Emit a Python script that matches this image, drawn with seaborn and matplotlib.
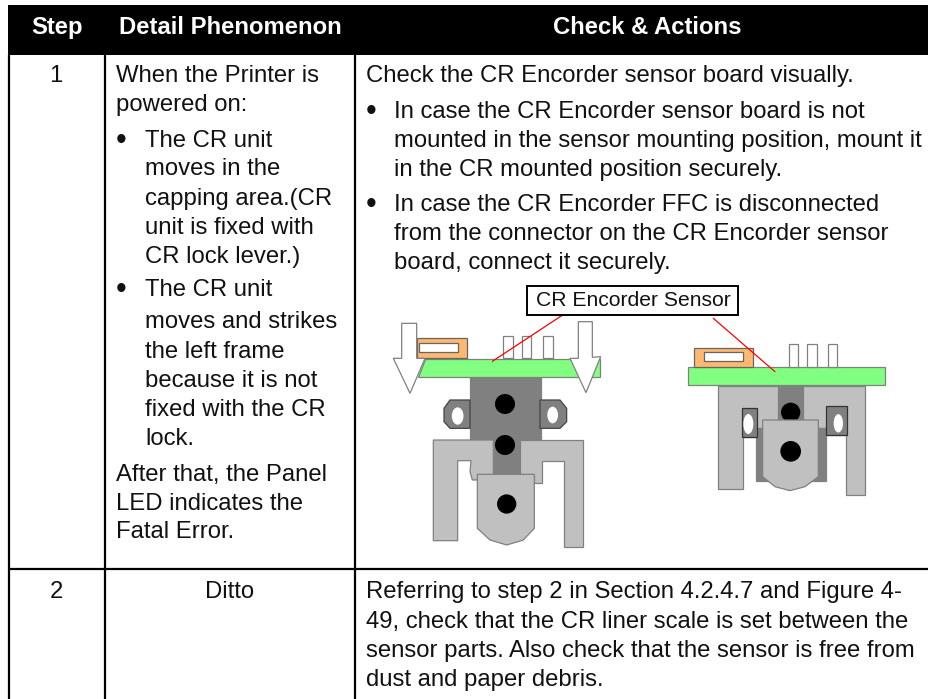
import matplotlib
matplotlib.use("Agg")
import matplotlib.pyplot as plt
from matplotlib.patches import Polygon, Ellipse, Rectangle
import seaborn as sns

sns.set_theme(style="white")
plt.rcParams['font.family'] = ['Liberation Sans', 'DejaVu Sans']

# ---- table content ----
headers = ["Step", "Detail Phenomenon", "Check & Actions"]
steps = ["1", "2"]
ditto = "Ditto"
phenomenon_lines = ["When the Printer is", "powered on:", "The CR unit", "moves in the",
                    "capping area.(CR", "unit is fixed with", "CR lock lever.)", "The CR unit",
                    "moves and strikes", "the left frame", "because it is not",
                    "fixed with the CR", "lock.", "After that, the Panel",
                    "LED indicates the", "Fatal Error."]
action_lines = ["Check the CR Encorder sensor board visually.",
                "In case the CR Encorder sensor board is not",
                "mounted in the sensor mounting position, mount it",
                "in the CR mounted position securely.",
                "In case the CR Encorder FFC is disconnected",
                "from the connector on the CR Encorder sensor",
                "board, connect it securely."]
step2_lines = ["Referring to step 2 in Section 4.2.4.7 and Figure 4-",
               "49, check that the CR liner scale is set between the",
               "sensor parts. Also check that the sensor is free from",
               "dust and paper debris."]
callout = "CR Encorder Sensor"

# ---- layout (pixels) ----
W, H = 929, 699
phen_y = [82, 111, 147, 175, 205, 234, 263, 296, 328, 358, 387, 416, 445, 481, 510, 538]
phen_x = [116, 116, 145, 145, 145, 145, 145, 145, 145, 145, 145, 145, 145, 116, 116, 116]
phen_bullets = [147, 296]
act_y = [82, 118, 147, 176, 211, 240, 269]
act_x = [366, 394, 394, 394, 394, 394, 394]
act_bullets = [118, 211]
step2_y = [598, 628, 657, 686]

GREEN, ORANGE, LIGHT, DARK, EDGE = "#80FF80", "#FFB870", "#C0C0C0", "#808080", "#808080"

fig = plt.figure(figsize=(W / 100, H / 100), dpi=100, facecolor="white")
ax = fig.add_axes([0, 0, 1, 1])
ax.set_xlim(0, W)
ax.set_ylim(H, 0)
ax.axis("off")

FS = 17.2
TC = "#111111"


def txt(x, y, s, **kw):
    kw.setdefault("fontsize", FS)
    kw.setdefault("color", TC)
    kw.setdefault("va", "baseline")
    ax.text(x, y, s, **kw)


# table frame
ax.add_patch(Rectangle((8, 5), W - 8, 50, fc="black", ec="none", zorder=1))
for x in (9, 105, 355):
    ax.plot([x, x], [55, H], color="black", lw=1.6, solid_capstyle="butt", zorder=2)
ax.plot([8, W], [569, 569], color="black", lw=1.6, solid_capstyle="butt", zorder=2)

for x, s in zip((57, 230, 647), headers):
    txt(x, 34, s, ha="center", color="white", fontweight="bold")
txt(56, 82, steps[0], ha="center")
txt(56, 598, steps[1], ha="center")
txt(230, 598, ditto, ha="center")

for x, y, s in zip(phen_x, phen_y, phenomenon_lines):
    txt(x, y, s)
for y in phen_bullets:
    txt(116, y + 2, "\u2022", fontsize=22)
for x, y, s in zip(act_x, act_y, action_lines):
    txt(x, y, s)
for y in act_bullets:
    txt(366, y + 2, "\u2022", fontsize=22)
for y, s in zip(step2_y, step2_lines):
    txt(366, y, s)


def mapper(ox, oy):
    return lambda pts: [(ox + a / 3, oy + b / 3) for a, b in pts]


def poly(m, pts, fc, ec=EDGE, lw=0.9, z=3):
    ax.add_patch(Polygon(m(pts), closed=True, fc=fc, ec=ec, lw=lw, zorder=z))


def box(m, x0, y0, x1, y1, fc, **kw):
    poly(m, [(x0, y0), (x1, y0), (x1, y1), (x0, y1)], fc, **kw)


def dot(m, cx, cy, w, h, fc="black", z=6):
    (x, y), = m([(cx, cy)])
    ax.add_patch(Ellipse((x, y), w / 3, h / 3, fc=fc, ec="none", zorder=z))


# left diagram
m1 = mapper(370, 280)
box(m1, 300, 292, 513, 480, DARK, z=3)
box(m1, 373, 480, 450, 590, DARK, z=3)
poly(m1, [(300, 360), (240, 360), (222, 385), (222, 425), (240, 445), (300, 445)], DARK, ec="#444444", z=3)
poly(m1, [(510, 360), (570, 360), (590, 385), (590, 425), (570, 445), (510, 445)], DARK, ec="#444444", z=3)
dot(m1, 263, 408, 35, 52, fc="white")
dot(m1, 548, 405, 32, 50, fc="white")
poly(m1, [(190, 480), (370, 480), (370, 585), (325, 600), (307, 600), (300, 575), (303, 542),
          (263, 542), (263, 782), (190, 782)], LIGHT, z=4)
poly(m1, [(450, 480), (638, 480), (638, 800), (583, 800), (583, 542), (517, 542), (517, 608),
          (493, 608), (493, 585), (450, 585)], LIGHT, z=4)
poly(m1, [(322, 583), (493, 583), (493, 745), (460, 780), (410, 795), (360, 780), (322, 745)], LIGHT, z=5)
dot(m1, 405, 372, 60, 60)
dot(m1, 405, 495, 60, 60)
dot(m1, 410, 672, 58, 58)
poly(m1, [(165, 237), (690, 237), (690, 290), (145, 290)], GREEN, z=3)
box(m1, 140, 175, 290, 235, ORANGE, ec="#666666")
box(m1, 148, 188, 265, 215, "white", ec="#666666")
for a, b in ((398, 428), (456, 482), (518, 548)):
    box(m1, a, 168, b, 235, "white")
poly(m1, [(95, 130), (140, 130), (140, 235), (165, 235), (120, 340), (70, 235), (95, 235)], "white", z=6)
poly(m1, [(625, 125), (667, 125), (667, 232), (692, 230), (648, 338), (600, 235), (625, 235)], "white", z=6)
ax.plot(*zip(*m1([(578, 105), (367, 244)])), color="#FF0000", lw=0.9, zorder=7)

# right diagram
m2 = mapper(640, 280)
poly(m2, [(235, 318), (675, 318), (675, 645), (618, 645), (618, 465), (557, 465), (557, 445),
          (350, 445), (350, 470), (308, 470), (308, 628), (235, 628)], LIGHT, z=3)
box(m2, 415, 320, 490, 425, DARK, z=4)
box(m2, 348, 445, 557, 603, DARK, z=4)
box(m2, 305, 383, 350, 470, DARK, ec="#333333", z=4)
box(m2, 557, 378, 622, 465, DARK, ec="#333333", z=4)
dot(m2, 325, 432, 30, 60, fc="white")
dot(m2, 595, 430, 28, 55, fc="white")
dot(m2, 452, 397, 58, 58, z=4.5)
poly(m2, [(368, 420), (535, 420), (535, 590), (495, 620), (450, 632), (405, 620), (368, 590)], LIGHT, z=5)
dot(m2, 452, 514, 62, 62)
box(m2, 145, 260, 735, 315, GREEN, z=6)
box(m2, 162, 203, 338, 260, ORANGE, ec="#666666", z=6)
box(m2, 192, 215, 310, 242, "white", ec="#666666", z=7)
for a, b in ((447, 475), (500, 530), (565, 592)):
    box(m2, a, 192, b, 260, "white", z=6)
ax.plot(*zip(*m2([(220, 115), (405, 275)])), color="#FF0000", lw=0.9, zorder=8)

# callout label
ax.add_patch(Rectangle((527, 286), 211, 29, fc="white", ec="black", lw=1.4, zorder=9))
txt(633, 306, callout, ha="center", fontsize=15.2, zorder=10)

fig.savefig("out.png", dpi=100, facecolor="white")
